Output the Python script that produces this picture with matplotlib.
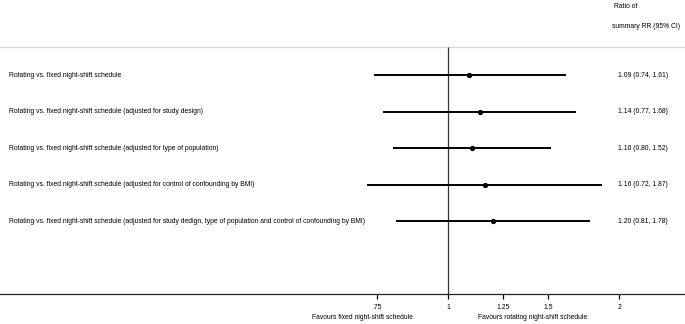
import matplotlib
matplotlib.use("Agg")
import matplotlib.pyplot as plt
import numpy as np

# Forest plot data
labels = [
    "Rotating vs. fixed night-shift schedule",
    "Rotating vs. fixed night-shift schedule (adjusted for study design)",
    "Rotating vs. fixed night-shift schedule (adjusted for type of population)",
    "Rotating vs. fixed night-shift schedule (adjusted for control of confounding by BMI)",
    "Rotating vs. fixed night-shift schedule (adjusted for study dedign, type of population and control of confounding by BMI)",
]
rr = [1.09, 1.14, 1.10, 1.16, 1.20]
lower = [0.74, 0.77, 0.80, 0.72, 0.81]
upper = [1.61, 1.68, 1.52, 1.87, 1.78]
tick_values = [0.75, 1, 1.25, 1.5, 2]
tick_labels = [".75", "1", "1.25", "1.5", "2"]

plt.rcParams["font.family"] = ["Liberation Sans", "DejaVu Sans"]
FS = 4.9

fig = plt.figure(figsize=(6.85, 3.24), dpi=100)
bottom = (324 - 294) / 324
ax = fig.add_axes([0, bottom, 1, 1 - bottom])

# pixel -> log-x mapping
px_per_log = 246.8
x_one = 448
ax.set_xscale("log")
ax.set_xlim(np.exp((0 - x_one) / px_per_log), np.exp((685 - x_one) / px_per_log))
ax.set_ylim(7.0, -1.055)

rows = np.arange(1, len(labels) + 1)
top_line = 0.23

ax.axhline(top_line, color="#d4d4d4", lw=1.0)
ax.vlines(1, top_line, 7.0, color="#333333", lw=0.9)
ax.hlines(rows, lower, upper, color="black", lw=1.4)
ax.plot(rr, rows, "o", color="black", ms=2.8)

tr = ax.get_yaxis_transform()
for y, lab, r, lo, hi in zip(rows, labels, rr, lower, upper):
    ax.text(0.013, y, lab, transform=tr, fontsize=FS, va="center", ha="left")
    ax.text(0.902, y, f"{r:.2f} ({lo:.2f}, {hi:.2f})", transform=tr,
            fontsize=FS, va="center", ha="left")

ax.text(0.896, -0.88, "Ratio of", transform=tr, fontsize=FS, va="center")
ax.text(0.893, -0.33, "summary RR (95% CI)", transform=tr, fontsize=FS, va="center")

for s in ["top", "left", "right"]:
    ax.spines[s].set_visible(False)
ax.spines["bottom"].set_linewidth(0.9)
ax.spines["bottom"].set_color("#222222")
ax.set_yticks([])
ax.set_xticks(tick_values)
ax.set_xticklabels(tick_labels)
ax.xaxis.set_minor_locator(matplotlib.ticker.NullLocator())
ax.tick_params(axis="x", direction="out", length=3.5, width=0.9, labelsize=FS, pad=4)

# favours labels below the axis
xt = ax.get_xaxis_transform()
ax.text(0.706, -0.081, "Favours fixed night-shift schedule", transform=xt,
        fontsize=FS, ha="center", va="center")
ax.text(1.41, -0.081, "Favours rotating night-shift schedule", transform=xt,
        fontsize=FS, ha="center", va="center")

fig.savefig("out.png", dpi=100)
